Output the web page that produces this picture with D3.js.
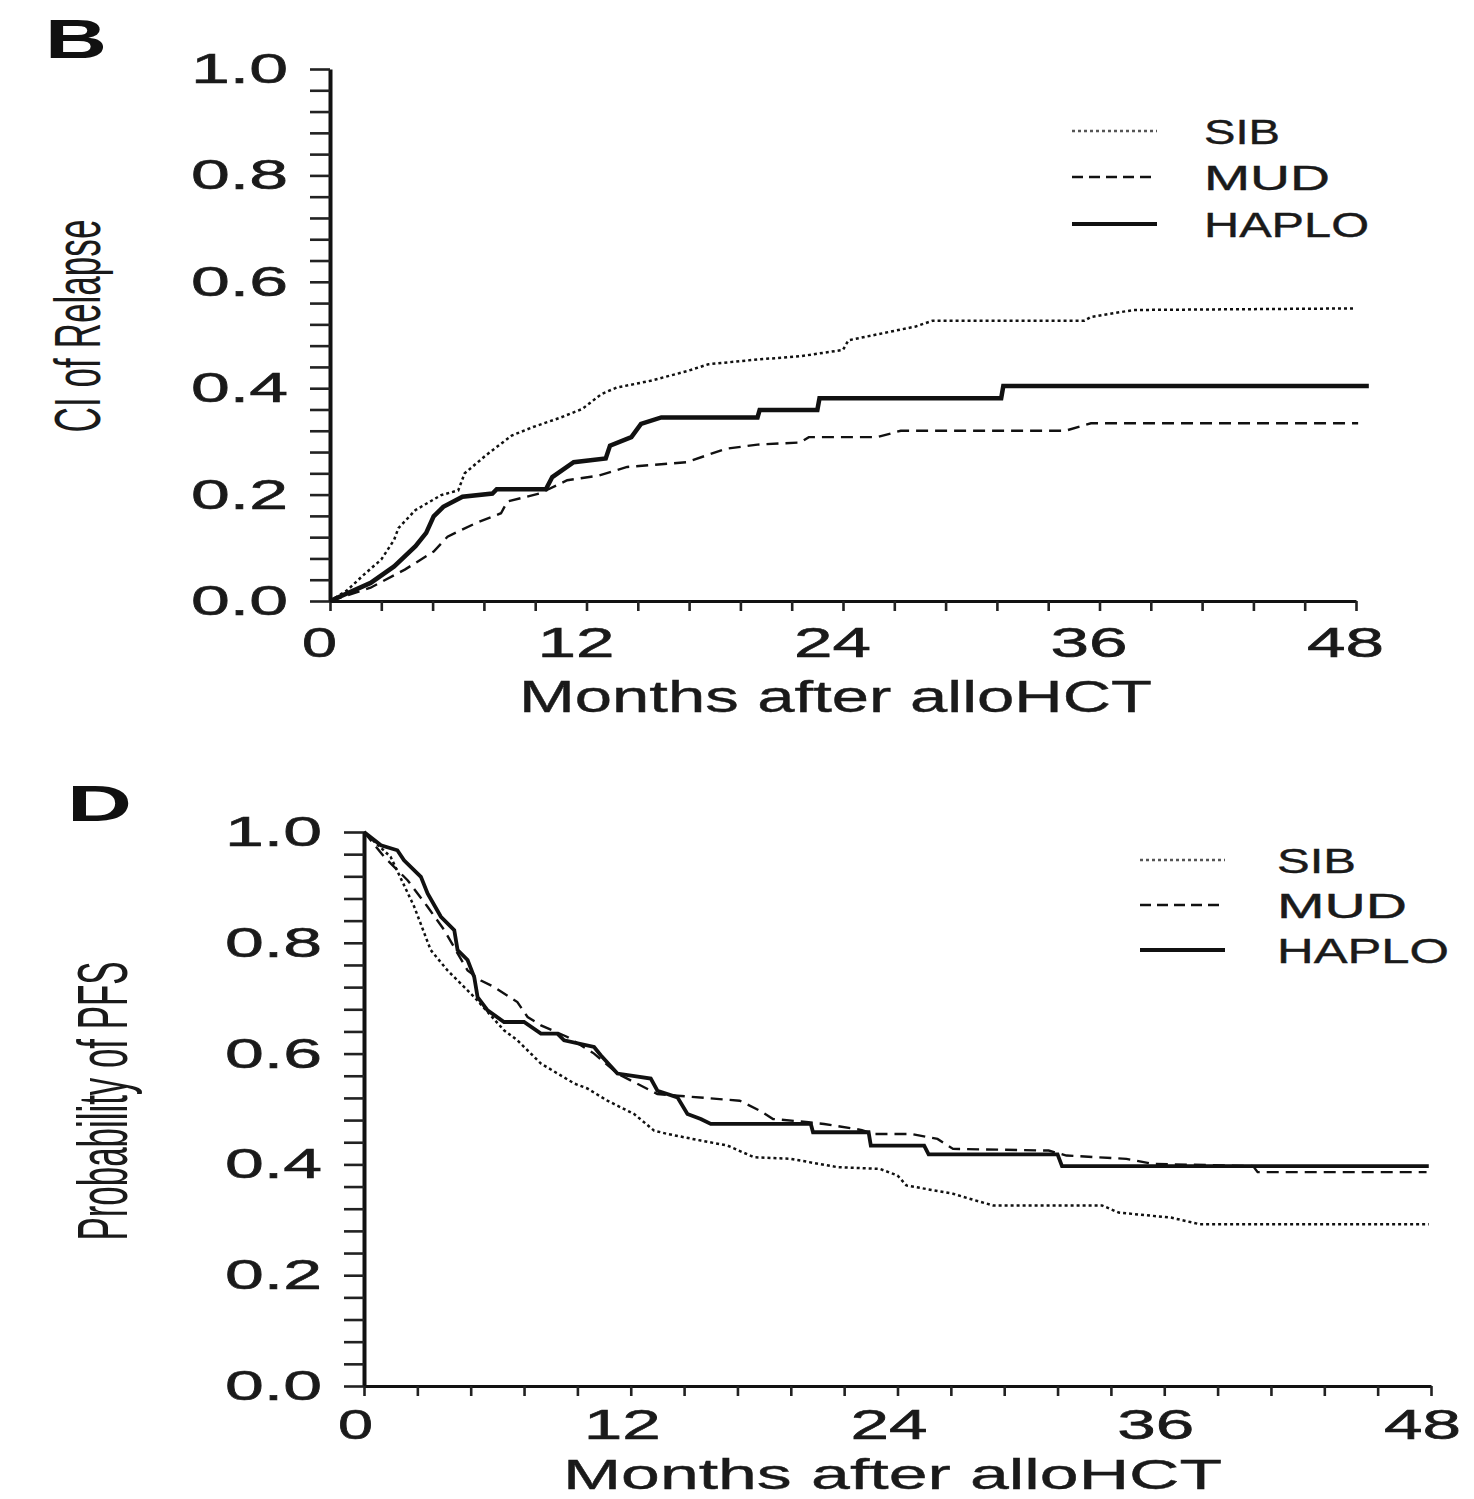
<!DOCTYPE html>
<html><head><meta charset="utf-8">
<script src="https://cdn.jsdelivr.net/npm/d3@7"></script>
<style>body{margin:0;background:#fff}</style>
</head><body><svg id="c" width="1474" height="1499"></svg>
<script>
// ---------- data (months after alloHCT, value) ----------
const seriesNames = ["SIB", "MUD", "HAPLO"];

// Panel B: cumulative incidence of relapse
const relapseSibMonths   = [0,0.8,1.6,2.4,3.0,3.2,4.0,5.2,6.0,6.3,7.3,8.5,9.5,10.8,11.8,12.7,13.4,15.0,16.7,17.7,20.0,22.0,24.0,24.25,27.4,28.2,35.3,35.6,37.6,48.0];
const relapseSibValues   = [0,0.02,0.05,0.078,0.115,0.137,0.171,0.199,0.208,0.24,0.274,0.311,0.327,0.345,0.361,0.389,0.401,0.414,0.432,0.445,0.454,0.46,0.472,0.49,0.516,0.527,0.527,0.534,0.547,0.55];
const relapseMudMonths   = [0,1.9,3.5,4.85,5.5,6.8,8.0,8.3,9.8,11.1,12.6,13.9,16.7,18.5,20.0,22.0,22.4,25.6,26.7,34.4,35.6,48.1];
const relapseMudValues   = [0,0.025,0.059,0.093,0.121,0.146,0.165,0.187,0.202,0.227,0.236,0.252,0.261,0.286,0.294,0.298,0.308,0.308,0.32,0.32,0.334,0.334];
const relapseHaploMonths = [0,1.9,3.0,4.0,4.5,4.85,5.3,6.2,7.6,7.8,10.1,10.4,11.4,12.9,13.1,14.1,14.55,15.5,20.0,20.1,22.8,22.9,31.4,31.5,48.6];
const relapseHaploValues = [0,0.034,0.065,0.103,0.128,0.159,0.177,0.196,0.202,0.21,0.21,0.233,0.261,0.268,0.292,0.308,0.333,0.345,0.345,0.359,0.359,0.381,0.381,0.404,0.404];

// Panel D: probability of progression-free survival
const pfsSibMonths   = [0,1.2,2.26,3.0,3.76,4.96,6.3,6.9,7.96,9.46,10.05,10.95,12.15,13.05,13.65,15.15,16.35,17.54,19.2,21.3,23.2,24.0,24.4,26.5,27.5,28.3,33.2,33.95,36.3,37.6,47.9];
const pfsSibValues   = [1,0.955,0.865,0.787,0.75,0.702,0.642,0.624,0.582,0.546,0.537,0.515,0.491,0.461,0.455,0.443,0.434,0.413,0.41,0.395,0.392,0.38,0.362,0.347,0.335,0.326,0.326,0.313,0.304,0.292,0.292];
const pfsMudMonths   = [0,0.91,1.96,2.86,3.61,4.21,4.66,5.26,5.86,6.9,7.36,7.96,9.15,10.35,11.4,13.2,14.1,16.9,17.8,18.4,20.0,20.7,22.4,22.9,24.6,25.8,26.5,30.8,31.6,34.3,35.5,40.0,40.2,47.8];
const pfsMudValues   = [1,0.955,0.913,0.865,0.823,0.781,0.75,0.732,0.72,0.693,0.666,0.651,0.63,0.60,0.564,0.527,0.524,0.515,0.497,0.482,0.476,0.473,0.462,0.455,0.455,0.446,0.428,0.425,0.416,0.41,0.401,0.397,0.386,0.386];
const pfsHaploMonths = [0,0.76,1.5,1.8,2.56,2.86,3.46,4.06,4.21,4.66,4.96,5.11,5.56,6.3,7.2,7.96,8.7,9.0,10.35,10.65,11.4,12.9,13.2,14.1,14.55,15.15,15.6,20.1,20.2,22.7,22.8,25.2,25.4,31.2,31.4,47.9];
const pfsHaploValues = [1,0.976,0.967,0.949,0.919,0.889,0.847,0.823,0.787,0.769,0.738,0.702,0.678,0.657,0.657,0.636,0.636,0.624,0.612,0.597,0.564,0.555,0.533,0.521,0.491,0.482,0.473,0.473,0.458,0.458,0.434,0.434,0.418,0.418,0.397,0.397];

const xMajorTicks = [0, 12, 24, 36, 48];
const xTickLabels = ["0", "12", "24", "36", "48"];
const yMajorTicks = [0, 0.2, 0.4, 0.6, 0.8, 1.0];
const yTickLabels = ["0.0", "0.2", "0.4", "0.6", "0.8", "1.0"];

// ---------- drawing ----------
const FONT = "'Liberation Sans', Arial, sans-serif";
const svg = d3.select("#c");
svg.append("rect").attr("width", 1474).attr("height", 1499).attr("fill", "#fff");

const zip = (a, b) => a.map((m, i) => [m, b[i]]);

function panel(cfg) {
  const x = d3.scaleLinear().domain([0, 48]).range([cfg.x0, cfg.x1]);
  const y = d3.scaleLinear().domain([0, 1]).range([cfg.y0, cfg.y1]);
  const g = svg.append("g");

  // minor ticks every 0.04 and 2.4 months (0.2 years)
  const yTicks = d3.range(0, 26).map(i => +(i * 0.04).toFixed(2));
  const xTicks = d3.range(0, 21).map(i => +(i * 2.4).toFixed(1));

  const yFmt = d => { const k = yMajorTicks.findIndex(v => Math.abs(v - d) < 1e-6); return k >= 0 ? yTickLabels[k] : ""; };
  const xFmt = d => { const k = xMajorTicks.findIndex(v => Math.abs(v - d) < 1e-6); return k >= 0 ? xTickLabels[k] : ""; };

  const ya = g.append("g").attr("transform", `translate(${cfg.x0},0)`)
    .call(d3.axisLeft(y).tickValues(yTicks).tickSize(20).tickSizeOuter(0).tickPadding(22).tickFormat(yFmt));
  const xa = g.append("g").attr("transform", `translate(0,${cfg.y0})`)
    .call(d3.axisBottom(x).tickValues(xTicks).tickSize(10).tickSizeOuter(0).tickPadding(cfg.xPad).tickFormat(xFmt));

  [ya, xa].forEach(a => a.attr("font-family", null).attr("font-size", null));
  ya.select(".domain").attr("stroke", "#111").attr("stroke-width", 4);
  xa.select(".domain").attr("stroke", "#111").attr("stroke-width", 3);
  ya.selectAll(".tick line").attr("stroke", "#222").attr("stroke-width", 2.6);
  xa.selectAll(".tick line").attr("stroke", "#222").attr("stroke-width", 2.6);

  ya.selectAll(".tick text").attr("font-family", FONT).attr("font-size", 42).attr("fill", "#1a1a1a")
    .attr("stroke", "#1a1a1a").attr("stroke-width", 0.6)
    .each(function () { const t = d3.select(this); if (t.text()) t.attr("textLength", 97).attr("lengthAdjust", "spacingAndGlyphs"); });
  xa.selectAll(".tick text").attr("font-family", FONT).attr("font-size", 42).attr("fill", "#1a1a1a").attr("dx", cfg.xDx)
    .attr("stroke", "#1a1a1a").attr("stroke-width", 0.6)
    .each(function () { const t = d3.select(this); const s = t.text(); if (s) t.attr("textLength", s.length === 1 ? 35 : 77).attr("lengthAdjust", "spacingAndGlyphs"); });

  // curves
  const line = d3.line().x(d => x(d[0])).y(d => y(d[1]));
  const styles = {
    SIB:   { dash: "3,3", w: 2.5 },
    MUD:   { dash: "12,7", w: 2.4 },
    HAPLO: { dash: null, w: cfg.haploW }
  };
  cfg.series.forEach((s, i) => {
    const st = styles[seriesNames[i]];
    g.append("path").datum(s).attr("d", line).attr("fill", "none")
      .attr("stroke", "#111").attr("stroke-width", st.w)
      .attr("stroke-dasharray", st.dash).attr("stroke-linejoin", "miter");
  });

  // legend
  seriesNames.forEach((n, i) => {
    const ly = cfg.legY[i];
    g.append("line").attr("x1", cfg.legX0).attr("x2", cfg.legX1).attr("y1", ly).attr("y2", ly)
      .attr("stroke", n === "SIB" ? "#555" : "#111").attr("stroke-width", n === "HAPLO" ? 4 : 2.4)
      .attr("stroke-dasharray", n === "SIB" ? "3,3" : (n === "MUD" ? "11,6" : null));
    g.append("text").attr("x", cfg.legTx).attr("y", ly + 13).text(n)
      .attr("font-family", FONT).attr("font-size", 35).attr("fill", "#1a1a1a")
      .attr("stroke", "#1a1a1a").attr("stroke-width", 0.4)
      .attr("textLength", cfg.legLen[i]).attr("lengthAdjust", "spacingAndGlyphs");
  });

  // axis titles
  g.append("text").attr("x", cfg.xtX).attr("y", cfg.xtY).text("Months after alloHCT")
    .attr("font-family", FONT).attr("font-size", cfg.xtSize).attr("fill", "#1a1a1a")
    .attr("stroke", "#1a1a1a").attr("stroke-width", 0.4)
    .attr("textLength", cfg.xtLen).attr("lengthAdjust", "spacingAndGlyphs");
  g.append("text").attr("transform", `translate(${cfg.ytX},${cfg.ytY}) rotate(-90)`)
    .attr("text-anchor", "middle").text(cfg.yTitle)
    .attr("font-family", FONT).attr("font-size", cfg.ytSize).attr("fill", "#1a1a1a")
    .attr("textLength", cfg.ytLen).attr("lengthAdjust", "spacingAndGlyphs");

  // panel letter
  g.append("text").attr("x", cfg.letX).attr("y", cfg.letY).text(cfg.letter)
    .attr("font-family", FONT).attr("font-weight", "bold").attr("font-size", cfg.letSize).attr("fill", "#111")
    .attr("textLength", cfg.letLen).attr("lengthAdjust", "spacingAndGlyphs");
}

panel({
  x0: 330, x1: 1356, y0: 601, y1: 69, xPad: 16, xDx: -11, haploW: 4.5,
  series: [zip(relapseSibMonths, relapseSibValues), zip(relapseMudMonths, relapseMudValues), zip(relapseHaploMonths, relapseHaploValues)],
  legX0: 1072, legX1: 1157, legTx: 1204, legY: [131, 177, 224], legLen: [76, 126, 165],
  xtX: 519, xtY: 712, xtLen: 633, xtSize: 44,
  yTitle: "CI of Relapse", ytX: 100, ytY: 326, ytLen: 213, ytSize: 64,
  letter: "B", letX: 45, letY: 58, letSize: 56, letLen: 62
});

panel({
  x0: 364, x1: 1431, y0: 1386, y1: 832, xPad: 13, xDx: -9, haploW: 3.8,
  series: [zip(pfsSibMonths, pfsSibValues), zip(pfsMudMonths, pfsMudValues), zip(pfsHaploMonths, pfsHaploValues)],
  legX0: 1140, legX1: 1225, legTx: 1277, legY: [860, 905, 950], legLen: [79, 130, 172],
  xtX: 563, xtY: 1489, xtLen: 659, xtSize: 42,
  yTitle: "Probability of PFS", ytX: 127, ytY: 1101, ytLen: 279, ytSize: 70,
  letter: "D", letX: 67, letY: 821, letSize: 50, letLen: 65
});
</script>
</body></html>
